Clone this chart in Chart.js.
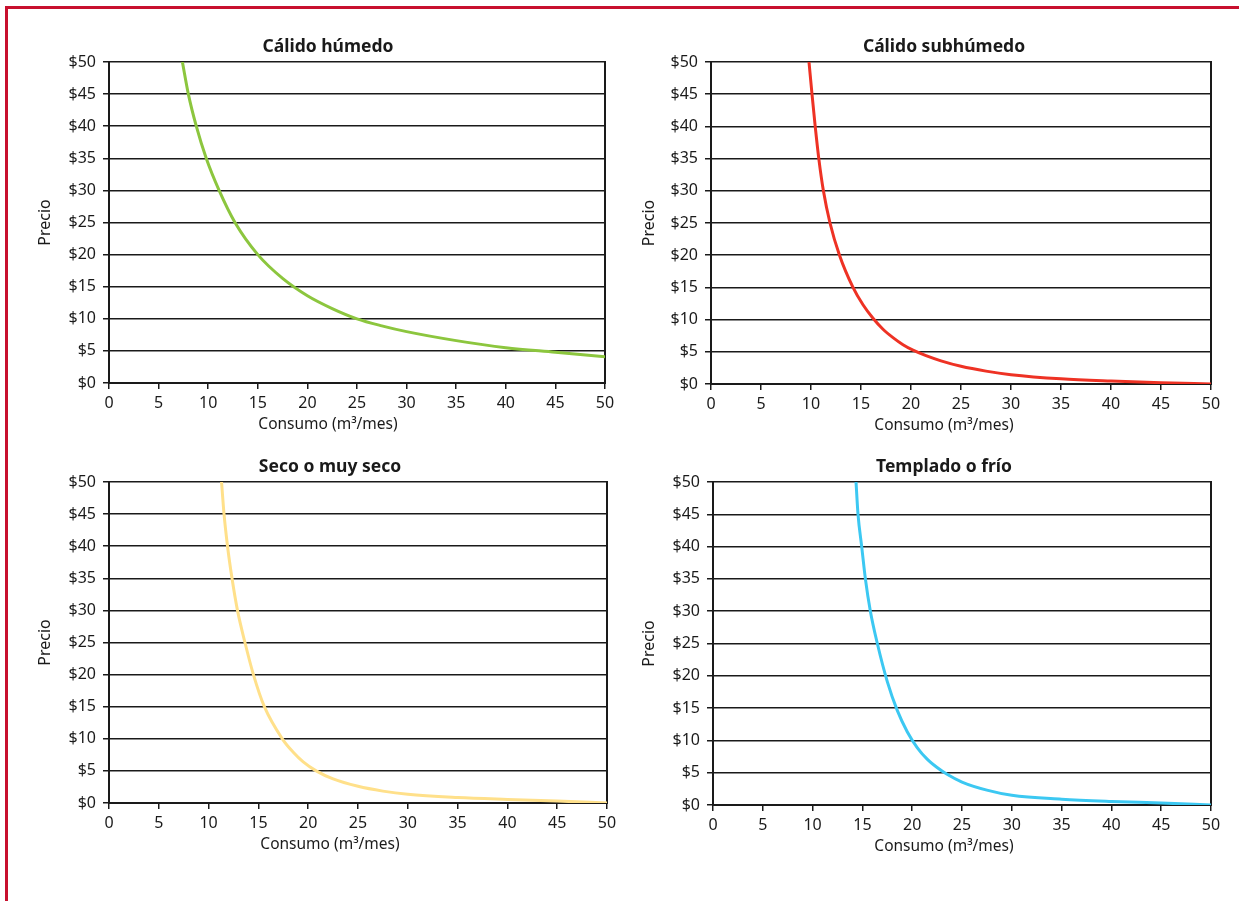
<!DOCTYPE html>
<html>
<head>
<meta charset="utf-8">
<script src="https://cdn.jsdelivr.net/npm/chart.js@4.4.1/dist/chart.umd.min.js"></script>
<style>
  html, body { margin: 0; padding: 0; background: #fff; overflow: hidden; }
  body { width: 1239px; height: 901px; position: relative; }
  #frame { position: absolute; left: 5px; top: 6px; width: 1260px; height: 920px;
           border-left: 3px solid #c8102e; border-top: 3px solid #c8102e; }
  canvas { position: absolute; }
</style>
</head>
<body>
<div id="frame"></div>
<canvas id="c1"></canvas>
<canvas id="c2"></canvas>
<canvas id="c3"></canvas>
<canvas id="c4"></canvas>
<script>
// consumo (m3/mes) vs precio
const humedoX = [7.4, 8.0, 8.8, 9.8, 11.1, 12.7, 15, 17.5, 20, 22.5, 25, 27.5, 30, 35, 40, 45, 50];
const humedoY = [50, 45, 40, 35, 30, 25, 20, 16.3, 13.6, 11.6, 10, 8.9, 8, 6.6, 5.5, 4.8, 4.1];

const subhumedoX = [9.8, 10.1, 10.42, 10.78, 11.24, 11.9, 12.85, 14.2, 15.2, 16.2, 17.2, 18.2, 19.2, 20.2, 21.5, 23, 25, 27.5, 30, 35, 40, 45, 50];
const subhumedoY = [50, 45, 40, 35, 30, 25, 20, 15, 12.3, 10.2, 8.5, 7.2, 6.1, 5.25, 4.4, 3.6, 2.75, 2.0, 1.45, 0.8, 0.45, 0.2, 0];

const secoX = [11.3, 11.55, 11.9, 12.35, 12.9, 13.65, 14.5, 15.6, 17.4, 18.5, 19.5, 20.8, 22.5, 25, 27.5, 30, 35, 40, 45, 50];
const secoY = [50, 45, 40, 35, 30, 25, 20, 15, 10, 7.9, 6.4, 5, 3.75, 2.6, 1.85, 1.35, 0.85, 0.55, 0.3, 0];

const templadoX = [14.36, 14.56, 14.93, 15.3, 15.8, 16.5, 17.5, 18.5, 19.5, 20.5, 21.5, 22.5, 23.5, 25, 27.5, 30, 35, 40, 45, 50];
const templadoY = [50, 45, 40, 35, 30, 25, 19.1, 14.65, 11.35, 8.9, 7.1, 5.8, 4.75, 3.55, 2.3, 1.5, 0.9, 0.55, 0.3, 0];

const xTicks = [0, 5, 10, 15, 20, 25, 30, 35, 40, 45, 50];
const yTicks = [0, 5, 10, 15, 20, 25, 30, 35, 40, 45, 50];

const fam = "'Noto Sans', 'Open Sans', sans-serif";
const ink = '#1a1a1a';

function makeChart(id, titulo, xs, ys, color, box) {
  const cv = document.getElementById(id);
  cv.width = box.w;
  cv.height = box.h;
  cv.style.left = box.left + 'px';
  cv.style.top = box.top + 'px';
  cv.style.width = box.w + 'px';
  cv.style.height = box.h + 'px';

  const pts = xs.map((x, i) => ({ x: x, y: ys[i] }));

  return new Chart(cv, {
    type: 'line',
    data: {
      datasets: [{
        data: pts,
        borderColor: color,
        borderWidth: 3,
        pointRadius: 0,
        cubicInterpolationMode: 'monotone',
        fill: false
      }]
    },
    options: {
      responsive: false,
      animation: false,
      layout: { padding: { left: 0, right: 0, top: 0, bottom: box.padB } },
      plugins: {
        legend: { display: false },
        tooltip: { enabled: false },
        title: {
          display: true,
          text: titulo,
          color: ink,
          font: { family: fam, size: 17.5, weight: 'bold', lineHeight: '21px' },
          padding: { top: 6.5, bottom: 4.5 }
        },
        subtitle: {
          display: true,
          position: 'bottom',
          text: 'Consumo (m³/mes)',
          color: ink,
          font: { family: fam, size: 15.5, lineHeight: '19px' },
          padding: { top: 4.5, bottom: 4 }
        }
      },
      scales: {
        x: {
          type: 'linear',
          min: 0,
          max: 50,
          afterBuildTicks: s => { s.ticks = xTicks.map(v => ({ value: v })); },
          afterFit: s => { s.height = 28; },
          ticks: { color: ink, font: { family: fam, size: 16 }, padding: 5, maxRotation: 0 },
          grid: { drawOnChartArea: false, drawTicks: true, tickLength: 6, color: ink, lineWidth: 1.5 },
          border: { display: true, color: ink, width: 2 }
        },
        y: {
          min: 0,
          max: 50,
          afterBuildTicks: s => { s.ticks = yTicks.map(v => ({ value: v })); },
          afterFit: s => { s.width = box.yw; },
          ticks: { color: ink, font: { family: fam, size: 16 }, padding: 7, callback: v => '$' + v },
          grid: { color: ink, lineWidth: 1.5, tickLength: 6 },
          border: { display: true, color: ink, width: 2 },
          title: { display: true, text: 'Precio', color: ink, font: { family: fam, size: 16 }, padding: { top: 4, bottom: 4 } }
        },
        y2: {
          position: 'right',
          min: 0,
          max: 50,
          afterFit: s => { s.width = box.padR; },
          ticks: { display: false },
          grid: { display: false, drawTicks: false },
          border: { display: true, color: ink, width: 2 }
        }
      }
    }
  });
}

makeChart('c1', 'Cálido húmedo', humedoX, humedoY, '#8cc63e',
  { left: 32, top: 30, w: 592, h: 410, yw: 77, padR: 19, padB: 1.5 });
makeChart('c2', 'Cálido subhúmedo', subhumedoX, subhumedoY, '#ee3224',
  { left: 636, top: 30, w: 616, h: 411, yw: 75, padR: 41, padB: 1.5 });
makeChart('c3', 'Seco o muy seco', secoX, secoY, '#ffe08a',
  { left: 32, top: 450, w: 596, h: 410, yw: 77, padR: 21, padB: 1.5 });
makeChart('c4', 'Templado o frío', templadoX, templadoY, '#3cc8f2',
  { left: 636, top: 450, w: 616, h: 412, yw: 77, padR: 41, padB: 1.5 });
</script>
</body>
</html>
